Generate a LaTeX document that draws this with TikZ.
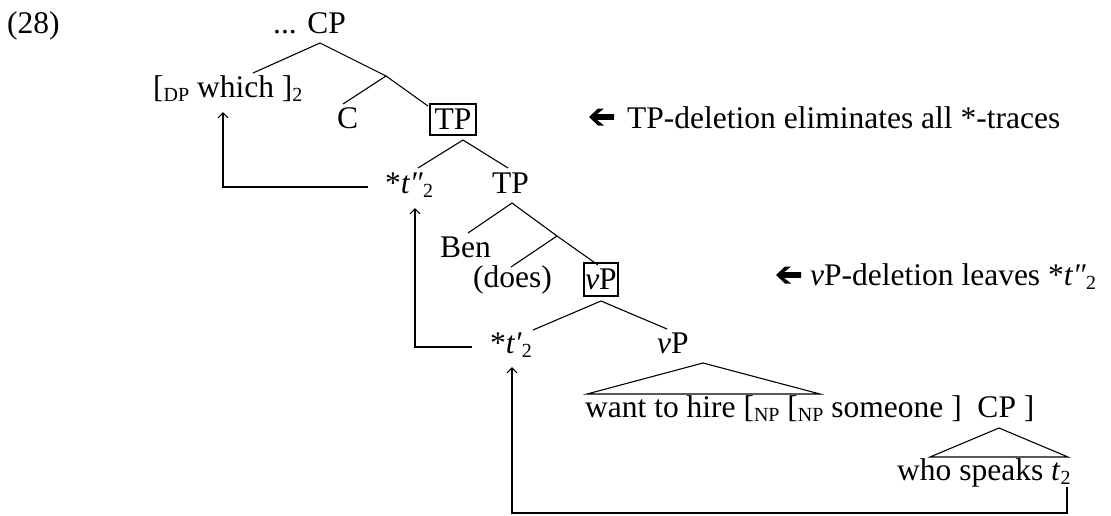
\documentclass[tikz,border=0pt]{standalone}
\usepackage{fontspec}
\setmainfont{Liberation Serif}
\usetikzlibrary{arrows.meta}
\newcommand\lsub[1]{\raisebox{-4pt}{\fontsize{20}{20}\selectfont #1}}
\tikzset{
  lbl/.style={anchor=base west, inner sep=0pt, font=\fontsize{31.5}{36}\selectfont},
  boxed/.style={draw, line width=1.6pt, inner sep=0pt, font=\fontsize{31.5}{36}\selectfont},
  branch/.style={line width=1.1pt},
  move/.style={line width=1.1pt, -{Straight Barb[length=5pt,width=10pt]}},
  heavyarrow/.pic={\fill (0,0) -- (9,-8.5) -- (15,-8.5) -- (8,-2.8) -- (25,-2.8) -- (25,2.8) -- (8,2.8) -- (15,8.5) -- (9,8.5) -- cycle;}
}
\begin{document}
\begin{tikzpicture}[x=1pt,y=-1pt]
\useasboundingbox (0,0) rectangle (1111,515);
% labels
\node[lbl] (ex) at (7,33) {(28)};
\node[lbl] (cp) at (273,33) {... CP};
\node[lbl] (which) at (153,97) {[\lsub{DP} which ]\lsub{2}};
\node[lbl] (c) at (337,128) {C};
\node[boxed, minimum width=46pt, minimum height=31pt] (tpbox) at (453,119.5) {TP};
\node[lbl] (tpp) at (385,193) {*\textit{t″}\lsub{2}};
\node[lbl] (tp) at (492,193) {TP};
\node[lbl] (ben) at (440,257) {Ben};
\node[lbl] (does) at (473,287) {(does)};
\node[boxed, minimum width=34pt, minimum height=33pt] (vpbox) at (601,279.5) {\textit{v}P};
\node[lbl] (tp1) at (490,353) {*\textit{t′}\lsub{2}};
\node[lbl] (vp) at (657,353) {\textit{v}P};
\node[lbl] (want) at (585,417) {want to hire [\lsub{NP}\ [\lsub{NP} someone ]\ \ CP ]};
\node[lbl] (who) at (897,480) {who speaks \textit{t}\lsub{2}};
% annotations
\pic at (589,117) {heavyarrow};
\node[lbl] (ann1) at (627,128) {TP-deletion eliminates all *-traces};
\pic at (776,275) {heavyarrow};
\node[lbl] (ann2) at (810,285) {\textit{v}P-deletion leaves *\textit{t″}\lsub{2}};
% tree junctions
\coordinate (cpfoot) at (320,43);
\coordinate (whichtop) at (253,73);
\coordinate (cbar) at (386,76);
\coordinate (ctop) at (343,104);
\coordinate (tpboxtop) at (428,106);
\coordinate (tpboxfoot) at (463,140);
\coordinate (tpptop) at (418,168);
\coordinate (tptop) at (508,168);
\coordinate (tpfoot) at (512,203);
\coordinate (bentop) at (468,233);
\coordinate (tbar) at (557,236);
\coordinate (doestop) at (511,267);
\coordinate (vpboxtop) at (598,265);
\coordinate (vpboxfoot) at (601,301);
\coordinate (tp1top) at (533,330);
\coordinate (vptop) at (667,329);
\coordinate (vpfoot) at (703,363);
\coordinate (wantl) at (587,394);
\coordinate (wantr) at (820,394);
\coordinate (cpsfoot) at (999,428);
\coordinate (whol) at (930,457);
\coordinate (whor) at (1068,457);
% branches
\draw[branch] (whichtop) -- (cpfoot) -- (cbar);
\draw[branch] (ctop) -- (cbar) -- (tpboxtop);
\draw[branch] (tpptop) -- (tpboxfoot) -- (tptop);
\draw[branch] (bentop) -- (tpfoot) -- (tbar);
\draw[branch] (doestop) -- (tbar) -- (vpboxtop);
\draw[branch] (tp1top) -- (vpboxfoot) -- (vptop);
\draw[branch] (vpfoot) -- (wantl) -- (wantr) -- cycle;
\draw[branch] (cpsfoot) -- (whol) -- (whor) -- cycle;
% movement arrows
\coordinate (m1s) at (368,187);
\coordinate (whichfoot) at (223,112);
\coordinate (m2s) at (472,347);
\coordinate (tppfoot) at (415,208);
\coordinate (t2foot) at (1067,487);
\coordinate (m3c) at (1067,513);
\coordinate (tp1foot) at (512,367);
\draw[move] (m1s) -| (whichfoot);
\draw[move] (m2s) -| (tppfoot);
\draw[move] (t2foot) -- (m3c) -| (tp1foot);
\end{tikzpicture}
\end{document}
